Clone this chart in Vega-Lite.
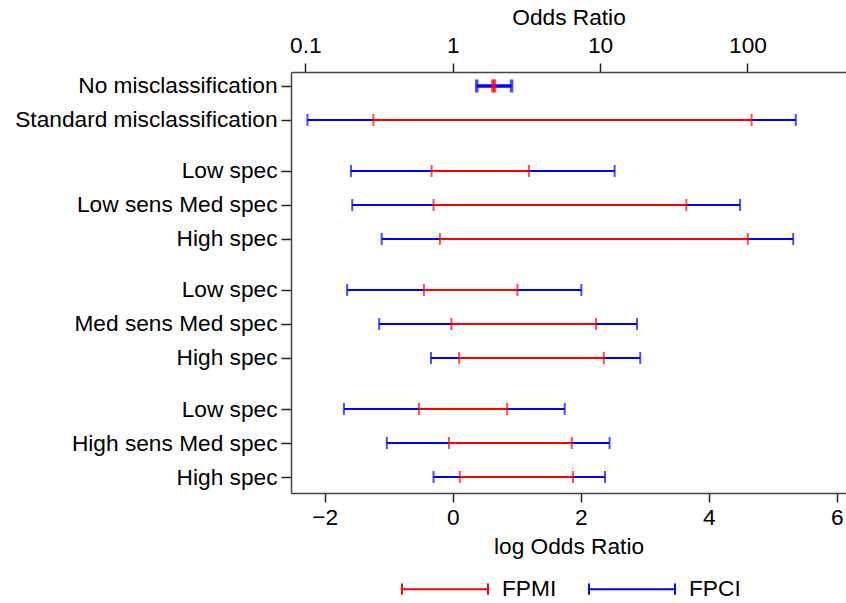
{
  "$schema": "https://vega.github.io/schema/vega-lite/v6.json",
  "width": 555,
  "height": 421,
  "autosize": {"type": "none"},
  "padding": {"left": 291, "top": 72, "right": 0, "bottom": 110},
  "background": "white",
  "data": {
    "values": [
      {"label": "No misclassification", "pos": 1, "series": "FPCI", "lo": 0.375, "hi": 0.92},
      {"label": "Standard misclassification", "pos": 2, "series": "FPCI", "lo": -2.27, "hi": 5.36},
      {"label": "Low spec", "pos": 3.5, "series": "FPCI", "lo": -1.59, "hi": 2.53},
      {"label": "Low sens Med spec", "pos": 4.5, "series": "FPCI", "lo": -1.57, "hi": 4.49},
      {"label": "High spec", "pos": 5.5, "series": "FPCI", "lo": -1.11, "hi": 5.32},
      {"label": "Low spec", "pos": 7, "series": "FPCI", "lo": -1.65, "hi": 2.01},
      {"label": "Med sens Med spec", "pos": 8, "series": "FPCI", "lo": -1.15, "hi": 2.88},
      {"label": "High spec", "pos": 9, "series": "FPCI", "lo": -0.34, "hi": 2.93},
      {"label": "Low spec", "pos": 10.5, "series": "FPCI", "lo": -1.70, "hi": 1.75},
      {"label": "High sens Med spec", "pos": 11.5, "series": "FPCI", "lo": -1.03, "hi": 2.45},
      {"label": "High spec", "pos": 12.5, "series": "FPCI", "lo": -0.30, "hi": 2.38},
      {"label": "No misclassification", "pos": 1, "series": "FPMI", "lo": 0.627, "hi": 0.653},
      {"label": "Standard misclassification", "pos": 2, "series": "FPMI", "lo": -1.24, "hi": 4.67},
      {"label": "Low spec", "pos": 3.5, "series": "FPMI", "lo": -0.33, "hi": 1.19},
      {"label": "Low sens Med spec", "pos": 4.5, "series": "FPMI", "lo": -0.30, "hi": 3.65},
      {"label": "High spec", "pos": 5.5, "series": "FPMI", "lo": -0.20, "hi": 4.61},
      {"label": "Low spec", "pos": 7, "series": "FPMI", "lo": -0.45, "hi": 1.01},
      {"label": "Med sens Med spec", "pos": 8, "series": "FPMI", "lo": -0.02, "hi": 2.24},
      {"label": "High spec", "pos": 9, "series": "FPMI", "lo": 0.10, "hi": 2.36},
      {"label": "Low spec", "pos": 10.5, "series": "FPMI", "lo": -0.53, "hi": 0.85},
      {"label": "High sens Med spec", "pos": 11.5, "series": "FPMI", "lo": -0.06, "hi": 1.86},
      {"label": "High spec", "pos": 12.5, "series": "FPMI", "lo": 0.11, "hi": 1.88}
    ]
  },
  "encoding": {
    "y": {
      "field": "pos",
      "type": "quantitative",
      "scale": {"domain": [0.59, 12.97], "reverse": true, "nice": false, "zero": false},
      "axis": {
        "title": null,
        "values": [1, 2, 3.5, 4.5, 5.5, 7, 8, 9, 10.5, 11.5, 12.5],
        "labelExpr": "{'1':'No misclassification','2':'Standard misclassification','3.5':'Low spec','4.5':'Low sens Med spec','5.5':'High spec','7':'Low spec','8':'Med sens Med spec','9':'High spec','10.5':'Low spec','11.5':'High sens Med spec','12.5':'High spec'}[datum.value]",
        "tickSize": 10,
        "labelPadding": 4,
        "labelLimit": 400,
        "grid": false
      }
    }
  },
  "resolve": {"axis": {"x": "independent"}},
  "layer": [
    {
      "mark": {"type": "rule"},
      "encoding": {
        "x": {
          "field": "lo",
          "type": "quantitative",
          "scale": {"domain": [-2.527, 6.145], "nice": false, "zero": false},
          "axis": {
            "orient": "top",
            "title": "Odds Ratio",
            "values": [-2.302585, 0, 2.302585, 4.60517],
            "labelExpr": "datum.value < -1 ? '0.1' : datum.value < 1 ? '1' : datum.value < 3 ? '10' : '100'",
            "tickSize": 9,
            "labelPadding": 6,
            "titlePadding": 5,
            "grid": false
          }
        },
        "x2": {"field": "hi"},
        "color": {
          "field": "series",
          "type": "nominal",
          "scale": {"domain": ["FPMI", "FPCI"], "range": ["#ff0000", "#0000ff"]},
          "legend": {
            "title": null,
            "orient": "none",
            "direction": "horizontal",
            "legendX": 110,
            "legendY": 473,
            "symbolType": "M-1,0H1M-1,-0.13V0.13M1,-0.13V0.13",
            "symbolSize": 7396,
            "symbolStrokeWidth": 2,
            "symbolFillColor": "transparent",
            "labelFontSize": 22.7,
            "labelColor": "#000",
            "labelOffset": 13,
            "columnPadding": 28
          }
        },
        "strokeWidth": {"condition": {"test": "datum.pos == 1", "value": 3.5}, "value": 2}
      }
    },
    {
      "transform": [{"filter": "datum.pos != 1"}],
      "mark": {"type": "tick", "orient": "vertical", "thickness": 2, "size": 12},
      "encoding": {
        "x": {
          "field": "lo",
          "type": "quantitative",
          "axis": {
            "orient": "bottom",
            "title": "log Odds Ratio",
            "values": [-2, 0, 2, 4, 6],
            "tickSize": 9,
            "labelPadding": 4,
            "titlePadding": 7,
            "grid": false
          }
        },
        "color": {"field": "series", "type": "nominal", "legend": null}
      }
    },
    {
      "transform": [{"filter": "datum.pos != 1"}],
      "mark": {"type": "tick", "orient": "vertical", "thickness": 2, "size": 12},
      "encoding": {
        "x": {"field": "hi", "type": "quantitative", "axis": null},
        "color": {"field": "series", "type": "nominal", "legend": null}
      }
    },
    {
      "transform": [{"filter": "datum.pos == 1"}],
      "mark": {"type": "tick", "orient": "vertical", "thickness": 3.5, "size": 13},
      "encoding": {
        "x": {"field": "lo", "type": "quantitative", "axis": null},
        "color": {"field": "series", "type": "nominal", "legend": null}
      }
    },
    {
      "transform": [{"filter": "datum.pos == 1"}],
      "mark": {"type": "tick", "orient": "vertical", "thickness": 3.5, "size": 13},
      "encoding": {
        "x": {"field": "hi", "type": "quantitative", "axis": null},
        "color": {"field": "series", "type": "nominal", "legend": null}
      }
    }
  ],
  "config": {
    "font": "Liberation Sans",
    "view": {"stroke": null},
    "axis": {
      "labelFontSize": 22.7,
      "titleFontSize": 22.7,
      "labelColor": "#000",
      "titleColor": "#000",
      "titleFontWeight": "normal",
      "domainColor": "#444",
      "domainWidth": 1.5,
      "tickColor": "#222",
      "tickWidth": 1.5
    },
    "legend": {"labelFont": "Liberation Sans"}
  }
}
